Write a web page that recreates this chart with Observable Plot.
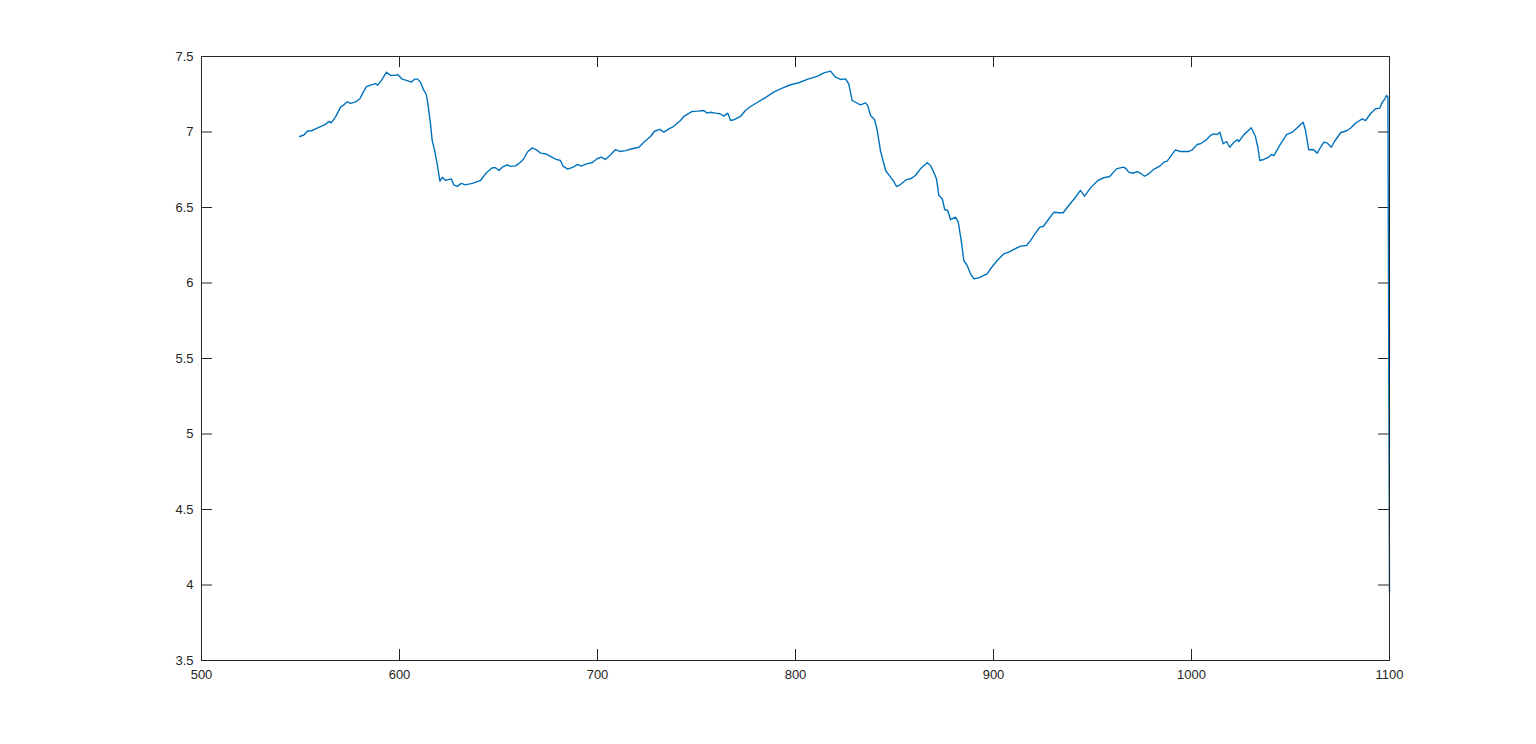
<!DOCTYPE html>
<html>
<head>
<meta charset="utf-8">
<script src="https://cdn.jsdelivr.net/npm/d3@7"></script>
<script src="https://cdn.jsdelivr.net/npm/@observablehq/plot@0.6"></script>
<style>
  html, body { margin: 0; padding: 0; background: #fff; }
  #chart svg { display: block; }
</style>
</head>
<body>
<div id="chart"></div>
<script>
const xValues = [
  549.6, 551.7, 553.4, 555.9, 558.4, 561.0, 562.6, 564.3, 565.5, 567.7, 570.2, 571.9, 573.6, 575.3, 577.8,
  580.0, 581.7, 583.3, 585.4, 587.9, 589.0, 590.8, 593.4, 595.5, 598.0, 599.1, 601.4, 603.9, 605.9, 607.6,
  609.2, 610.6, 612.3, 613.5, 614.3, 615.7, 616.5, 617.7, 619.0, 620.4, 621.6, 623.2, 626.1, 627.4, 629.1,
  631.2, 633.3, 636.7, 640.0, 640.9, 643.4, 646.8, 648.5, 650.2, 651.9, 654.4, 656.1, 658.6, 661.1, 662.8,
  664.5, 667.0, 669.2, 671.2, 673.7, 676.3, 678.8, 681.3, 682.7, 685.0, 687.7, 690.0, 691.8, 694.4, 697.3,
  699.8, 701.9, 704.0, 706.6, 709.1, 711.3, 714.1, 717.5, 720.9, 723.4, 726.8, 728.8, 731.5, 733.5, 736.1,
  738.5, 741.9, 743.6, 747.8, 750.4, 753.7, 755.4, 757.1, 759.6, 761.8, 763.8, 765.8, 767.2, 768.8, 772.2,
  774.7, 777.3, 781.5, 784.8, 789.0, 793.3, 797.5, 801.7, 805.9, 811.0, 814.3, 817.7, 820.2, 822.7, 825.3,
  826.9, 828.6, 830.3, 832.8, 835.4, 836.5, 837.9, 839.9, 841.3, 842.9, 845.5, 848.0, 849.6, 851.0, 853.0,
  856.1, 858.1, 860.6, 863.1, 866.5, 868.2, 869.8, 871.2, 872.4, 874.1, 875.4, 876.9, 878.3, 880.8, 882.2,
  883.7, 885.0, 886.7, 888.4, 890.1, 892.6, 895.1, 896.8, 898.5, 901.9, 905.2, 907.7, 910.3, 913.6, 916.7,
  918.7, 921.2, 923.4, 925.1, 927.1, 930.5, 933.0, 935.2, 938.0, 941.4, 943.9, 946.0, 949.0, 952.7, 955.7,
  958.7, 962.1, 965.5, 966.7, 968.3, 970.4, 972.6, 974.2, 976.3, 978.4, 981.3, 984.0, 986.0, 987.7, 991.9,
  994.4, 998.6, 1000.4, 1002.9, 1004.5, 1007.1, 1009.6, 1011.3, 1013.0, 1014.3, 1016.0, 1017.7, 1019.3, 1021.4, 1023.1,
  1023.9, 1026.4, 1030.2, 1032.3, 1033.5, 1034.5, 1036.5, 1039.0, 1040.3, 1041.6, 1045.0, 1048.0, 1050.9, 1053.4, 1056.4,
  1057.6, 1059.2, 1061.5, 1063.5, 1065.2, 1066.8, 1068.5, 1070.6, 1072.2, 1075.3, 1078.6, 1080.3, 1082.8, 1086.2, 1087.9,
  1090.4, 1092.9, 1095.1, 1096.3, 1097.5, 1098.5, 1099.2, 1100.0
];
const yValues = [
  6.97, 6.98, 7.005, 7.01, 7.025, 7.04, 7.05, 7.07, 7.06, 7.10, 7.165, 7.18, 7.20, 7.19, 7.20,
  7.22, 7.264, 7.30, 7.31, 7.32, 7.31, 7.34, 7.396, 7.375, 7.375, 7.38, 7.35, 7.34, 7.33, 7.35,
  7.35, 7.33, 7.275, 7.25, 7.19, 7.05, 6.944, 6.88, 6.79, 6.675, 6.70, 6.68, 6.69, 6.65, 6.64,
  6.66, 6.65, 6.66, 6.675, 6.679, 6.723, 6.763, 6.763, 6.745, 6.767, 6.783, 6.772, 6.776, 6.80, 6.823,
  6.866, 6.895, 6.882, 6.86, 6.856, 6.838, 6.82, 6.811, 6.772, 6.754, 6.767, 6.785, 6.774, 6.789, 6.796,
  6.823, 6.833, 6.818, 6.849, 6.884, 6.871, 6.877, 6.889, 6.899, 6.932, 6.97, 7.005, 7.017, 6.999, 7.021,
  7.038, 7.076, 7.103, 7.136, 7.138, 7.142, 7.125, 7.131, 7.125, 7.121, 7.105, 7.125, 7.076, 7.081, 7.103,
  7.142, 7.169, 7.202, 7.228, 7.264, 7.29, 7.313, 7.326, 7.348, 7.368, 7.392, 7.403, 7.363, 7.348, 7.352,
  7.319, 7.209, 7.197, 7.18, 7.193, 7.175, 7.109, 7.083, 7.01, 6.877, 6.745, 6.701, 6.674, 6.639, 6.652,
  6.685, 6.69, 6.712, 6.756, 6.796, 6.778, 6.734, 6.69, 6.579, 6.558, 6.485, 6.48, 6.419, 6.436, 6.403,
  6.281, 6.149, 6.116, 6.061, 6.028, 6.034, 6.05, 6.061, 6.094, 6.149, 6.193, 6.204, 6.222, 6.244, 6.248,
  6.281, 6.33, 6.37, 6.374, 6.409, 6.469, 6.465, 6.465, 6.513, 6.568, 6.613, 6.575, 6.63, 6.679, 6.697,
  6.705, 6.756, 6.767, 6.76, 6.734, 6.727, 6.738, 6.727, 6.707, 6.723, 6.756, 6.774, 6.80, 6.807, 6.882,
  6.871, 6.871, 6.882, 6.917, 6.922, 6.944, 6.977, 6.988, 6.983, 6.999, 6.922, 6.937, 6.899, 6.932, 6.948,
  6.937, 6.981, 7.028, 6.97, 6.899, 6.811, 6.818, 6.833, 6.851, 6.844, 6.922, 6.983, 6.999, 7.028, 7.065,
  7.01, 6.882, 6.884, 6.86, 6.899, 6.932, 6.928, 6.899, 6.937, 6.995, 7.01, 7.025, 7.058, 7.087, 7.076,
  7.121, 7.154, 7.158, 7.197, 7.215, 7.242, 7.23, 3.95
];
const xTicks = [500, 600, 700, 800, 900, 1000, 1100];
const yTicks = [3.5, 4, 4.5, 5, 5.5, 6, 6.5, 7, 7.5];

const series = xValues.map((x, i) => ({x, y: yValues[i]}));

const W = 1536, H = 744;
const mL = 201, mR = 147, mT = 56, mB = 84;
const plotW = W - mL - mR, plotH = H - mT - mB;
const tickLen = 11;
const axisColor = "#262626";
const fmt = d => String(d);

const chart = Plot.plot({
  width: W,
  height: H,
  marginLeft: mL,
  marginRight: mR,
  marginTop: mT,
  marginBottom: mB,
  style: {fontFamily: "'Liberation Sans', Arial, Helvetica, sans-serif", fontSize: "13px", color: axisColor, background: "#fff"},
  x: {domain: [500, 1100], label: null},
  y: {domain: [3.5, 7.5], label: null},
  marks: [
    Plot.axisX(xTicks, {tickSize: 0, tickPadding: 9, fill: axisColor, fontSize: 13, tickFormat: fmt, label: null}),
    Plot.axisY(yTicks, {tickSize: 0, tickPadding: 8, fill: axisColor, fontSize: 13, tickFormat: fmt, label: null}),
    // inward ticks, left & right
    Plot.ruleY(yTicks, {y: d => d, stroke: axisColor, insetRight: plotW - tickLen}),
    Plot.ruleY(yTicks, {y: d => d, stroke: axisColor, insetLeft: plotW - tickLen}),
    // inward ticks, bottom & top
    Plot.ruleX(xTicks, {x: d => d, stroke: axisColor, insetTop: plotH - tickLen}),
    Plot.ruleX(xTicks, {x: d => d, stroke: axisColor, insetBottom: plotH - tickLen}),
    Plot.line(series, {x: "x", y: "y", stroke: "#0072BD", strokeWidth: 1.4, strokeLinejoin: "round"}),
    Plot.frame({stroke: axisColor, strokeWidth: 1})
  ]
});
document.getElementById("chart").appendChild(chart);
</script>
</body>
</html>
